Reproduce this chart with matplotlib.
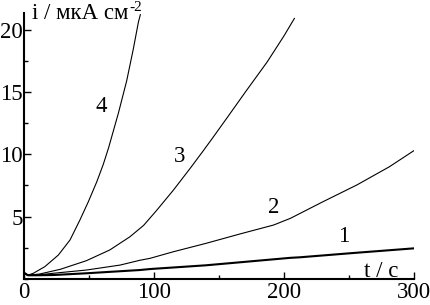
import matplotlib
matplotlib.use("Agg")
import matplotlib.pyplot as plt
from matplotlib.ticker import MultipleLocator

plt.rcParams['font.family'] = ['Liberation Serif', 'DejaVu Serif']

# curves 1..4: time in s, current density in uA/cm2
t1 = [0, 3, 10, 22.5, 48, 89, 97, 140, 205, 212, 255, 300]
i1 = [0.5, 0.3, 0.3, 0.32, 0.46, 0.72, 0.8, 1.1, 1.7, 1.74, 2.1, 2.46]

t2 = [0, 3, 10, 22.5, 48, 74, 89, 97, 115, 140, 166, 192, 205, 230, 256, 281, 300]
i2 = [0.5, 0.3, 0.32, 0.46, 0.72, 1.12, 1.5, 1.66, 2.19, 2.86, 3.61, 4.33, 4.87, 6.2, 7.54, 9.0, 10.3]

t3 = [0, 3, 12, 28, 48, 66, 81.5, 92, 102, 115, 128, 138, 145, 156, 171, 187, 200, 208]
i3 = [0.5, 0.3, 0.4, 0.78, 1.47, 2.33, 3.39, 4.3, 5.5, 7.14, 8.9, 10.3, 11.3, 12.9, 15.1, 17.4, 19.5, 20.9]

t4 = [0, 3.3, 7.2, 16, 26.4, 35.4, 43, 49.5, 56, 61, 65, 72.6, 79, 84, 88, 89.5]
i4 = [0.5, 0.32, 0.46, 0.99, 1.92, 3.13, 4.73, 6.2, 7.8, 9.2, 10.5, 13.3, 15.9, 18.4, 20.6, 21.2]

curve_labels = ["1", "2", "3", "4"]
label_t = [245.6, 191.8, 120, 59.7]
label_i = [3.4, 5.7, 9.8, 13.8]

fig = plt.figure(figsize=(4.3, 3.05), dpi=100)
ax = fig.add_axes([0.0558, 0.0852, 0.907, 0.872])

ax.plot(t1, i1, color='black', lw=1.5)
ax.plot(t2, i2, color='black', lw=0.8)
ax.plot(t3, i3, color='black', lw=0.8)
ax.plot(t4, i4, color='black', lw=0.8)

for lab, x, y in zip(curve_labels, label_t, label_i):
    ax.text(x, y, lab, fontsize=16.5, ha='center', va='center')

ax.text(275, 0.2, "t / c", fontsize=16.5, ha='center', va='baseline')

# y axis title with a superscript
ylab = ax.text(6.2, 20.85, "i / мкА см", fontsize=16.5, ha='left', va='baseline')
ax.annotate("-2", xy=(1, 1), xycoords=ylab, xytext=(0.5, 1.5), textcoords='offset points',
            fontsize=11, ha='left', va='top')

ax.set_xlim(0, 300)
ax.set_ylim(0, 21.33)
ax.spines['top'].set_visible(False)
ax.spines['right'].set_visible(False)
ax.spines['left'].set_linewidth(1.5)
ax.spines['bottom'].set_linewidth(1.5)

ax.xaxis.set_major_locator(MultipleLocator(100))
ax.xaxis.set_minor_locator(MultipleLocator(50))
ax.yaxis.set_minor_locator(MultipleLocator(2.5))
ax.set_yticks([5, 10, 15, 20])
ax.tick_params(which='major', direction='in', length=5, width=1, labelsize=16.5, pad=2)
ax.tick_params(which='minor', direction='in', length=3, width=1)
ax.tick_params(axis='y', pad=1)

fig.savefig("out.png", dpi=100)
